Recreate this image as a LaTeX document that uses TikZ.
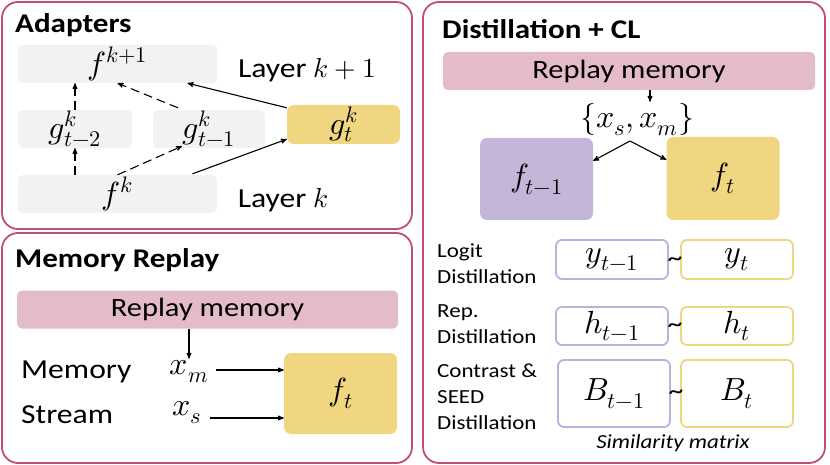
\documentclass[tikz,border=0pt]{standalone}
\usepackage{fontspec}
\usepackage{unicode-math}
\setmainfont{Carlito}[FakeStretch=1.15]
\setmathfont{Latin Modern Math}
\usetikzlibrary{positioning,arrows}

\definecolor{panelrose}{RGB}{190,80,112}
\definecolor{mempink}{RGB}{228,188,200}
\definecolor{newyellow}{RGB}{240,214,128}
\definecolor{oldpurple}{RGB}{196,182,216}
\definecolor{oldline}{RGB}{192,174,220}
\definecolor{layergray}{RGB}{242,242,242}

\begin{document}
\begin{tikzpicture}[x=1pt,y=-1pt,>=stealth',
    panel/.style={draw=panelrose,line width=1.8pt,rounded corners=16pt},
    title/.style={anchor=west,inner sep=0pt,font=\fontsize{27}{30}\selectfont\bfseries},
% Filled boxes
    layer/.style={rectangle,fill=layergray,rounded corners=5pt,inner sep=0pt,
		minimum height=38pt,font=\fontsize{32}{34}\selectfont},
    newbox/.style={rectangle,fill=newyellow,rounded corners=7pt,inner sep=0pt,
		minimum width=113pt,font=\fontsize{32}{34}\selectfont},
    oldbox/.style={rectangle,fill=oldpurple,rounded corners=7pt,inner sep=0pt,
		minimum width=113pt,font=\fontsize{32}{34}\selectfont},
    memory/.style={rectangle,fill=mempink,rounded corners=5pt,inner sep=0pt,
		minimum height=38pt,font=\fontsize{26.5}{30}\selectfont},
% Outlined boxes for the distilled outputs
    oldout/.style={rectangle,draw=oldline,line width=1.8pt,rounded corners=6pt,
		inner sep=0pt,minimum width=112pt,font=\fontsize{32}{34}\selectfont},
    newout/.style={rectangle,draw=newyellow,line width=1.8pt,rounded corners=6pt,
		inner sep=0pt,minimum width=112pt,font=\fontsize{32}{34}\selectfont},
    txt/.style={font=\fontsize{27.5}{30}\selectfont},
    mth/.style={inner sep=2pt,font=\fontsize{32}{34}\selectfont},
    small/.style={anchor=west,inner sep=0pt,align=left,font=\fontsize{20}{26}\selectfont},
    tilde/.style={inner sep=0pt,font=\fontsize{26}{28}\selectfont},
    flow/.style={->,line width=1.1pt},
    adapterflow/.style={->,line width=1.1pt,dash pattern=on 9pt off 5pt}
    ]
   \useasboundingbox (0,0) rectangle (830,465);

%%% Adapters
   \draw [panel] (2,2) rectangle (412,229);
   \node [title] (adtitle) at (15,25) {Adapters};
   \node [layer, minimum width=199pt] (fk1) at (117.5,64) {$f^{k+1}$};
   \node [layer, minimum width=114pt] (gt2) at (75,129) {$g_{t-2}^{k}$};
   \node [layer, minimum width=112pt] (gt1) at (209,129) {$g_{t-1}^{k}$};
   \node [newbox, minimum height=39pt] (gt) at (343.5,124.5) {$g_{t}^{k}$};
   \node [layer, minimum width=199pt] (fk) at (117.5,194) {$f^{k}$};
   \node [txt] (lay1) at (307,70) {Layer $k+1$};
   \node [txt] (lay0) at (283,200) {Layer $k$};

   \draw [adapterflow] (fk.north -| gt2.south) -- (gt2.south);
   \draw [adapterflow] (gt2.north) -- (gt2.north |- fk1.south);
   \draw [adapterflow] (fk.north) -- ([xshift=-27pt,yshift=2pt]gt1.south);
   \draw [adapterflow] ([xshift=-31pt,yshift=2pt]gt1.north) -- (fk1.south);
   \draw [flow] ([xshift=75pt,yshift=1pt]fk.north) -- ([yshift=5pt]gt.south west);
   \draw [flow] ([yshift=-3pt]gt.north west) -- ([xshift=70pt]fk1.south);

%%% Memory replay
   \draw [panel] (2,233) rectangle (412,463);
   \node [title] (mrtitle) at (15,260) {Memory Replay};
   \node [memory, minimum width=381pt] (rm1) at (207.5,309.5) {Replay memory};
   \node [mth] (xm) at (189,372) {$x_m$};
   \node [mth] (xs) at (187,413) {$x_s$};
   \node [txt, anchor=west, inner sep=0pt] (memlbl) at (21,372) {Memory};
   \node [txt, anchor=west, inner sep=0pt] (strlbl) at (21,415) {Stream};
   \node [newbox, minimum height=81pt] (ft1) at (340.5,393.5) {$f_t$};

   \draw [flow] (rm1.south -| xm) -- (xm);
   \draw [flow] ([xshift=6pt,yshift=2pt]xm.east) -- ([yshift=2pt]xm.east -| ft1.west);
   \draw [flow] ([xshift=6pt,yshift=-5pt]xs.east) -- ([yshift=-5pt]xs.east -| ft1.west);

%%% Distillation + CL
   \draw [panel] (423,2) rectangle (825,463);
   \node [title] (dctitle) at (442,29) {Distillation + CL};
   \node [memory, minimum width=372pt] (rm2) at (629,71) {Replay memory};
   \node [mth] (xsm) at (637,120) {$\{x_s, x_m\}$};
   \coordinate (split) at (630,141);
   \node [oldbox, minimum height=82pt] (fprev) at (536.5,179) {$f_{t-1}$};
   \node [newbox, minimum height=83pt] (fcur) at (723,178.5) {$f_t$};

   \draw [flow] ([xshift=13pt]xsm.north |- rm2.south) -- ([xshift=13pt]xsm.north);
   \draw [flow] (split) -- ([yshift=-23pt]fprev.north east);
   \draw [flow] (split) -- ([yshift=-23pt]fcur.north west);

   \node [small] (logit) at (437,263.5) {Logit\\Distillation};
   \node [oldout, minimum height=39pt] (yprev) at (612,259.5) {$y_{t-1}$};
   \node [newout, minimum height=39pt] (ycur) at (737,259.5) {$y_t$};
   \node [tilde] (sim1) at (675,262) {\textasciitilde};

   \node [small] (rep) at (437,324) {Rep.\\Distillation};
   \node [oldout, minimum height=38pt] (hprev) at (612,326) {$h_{t-1}$};
   \node [newout, minimum height=38pt] (hcur) at (737,326) {$h_t$};
   \node [tilde] (sim2) at (675,328) {\textasciitilde};

   \node [small] (seed) at (437,397) {Contrast \&\\SEED\\Distillation};
   \node [oldout, minimum height=67pt] (bprev) at (614,393.5) {$B_{t-1}$};
   \node [newout, minimum height=67pt] (bcur) at (737,393.5) {$B_t$};
   \node [tilde] (sim3) at (676,395) {\textasciitilde};
   \node [small, anchor=center, font=\fontsize{20}{24}\selectfont\itshape] (simlbl) at (673,443) {Similarity matrix};
\end{tikzpicture}
\end{document}
